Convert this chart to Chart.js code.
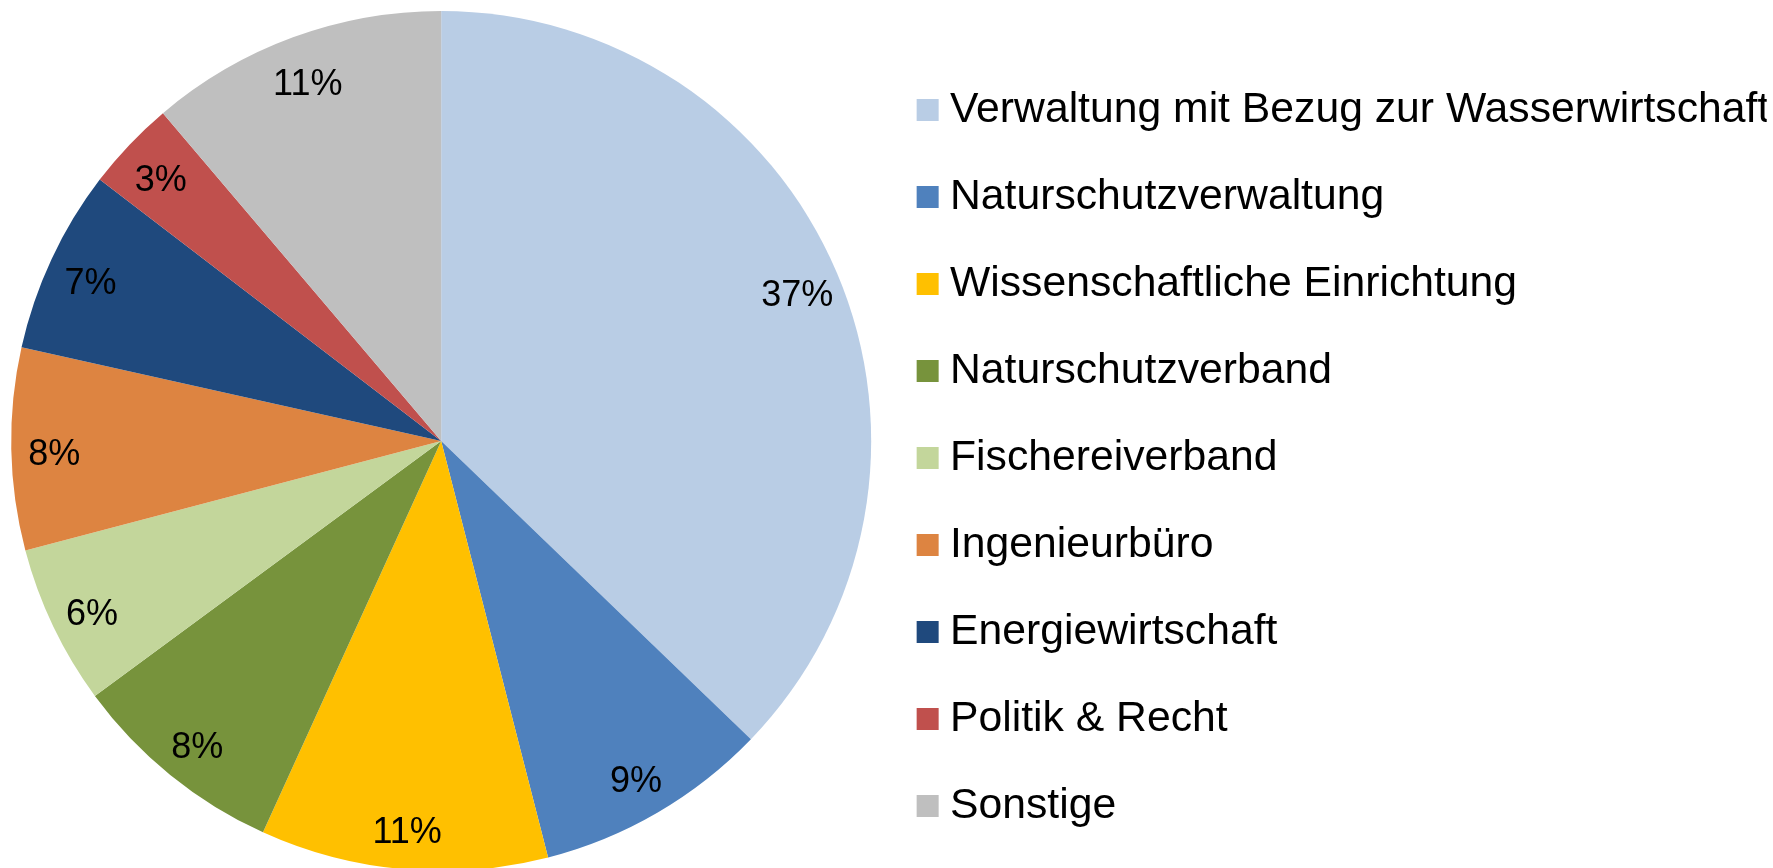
<!DOCTYPE html>
<html lang="de">
<head>
<meta charset="utf-8">
<title>Teilnehmer nach Bereich</title>
<script src="https://cdn.jsdelivr.net/npm/chart.js@4"></script>
<style>
    html,body{margin:0;padding:0;background:#fff;overflow:hidden;}
    #wrap{width:1773px;height:880px;}
</style>
</head>
<body>

<div id="wrap"><canvas id="graficoAnteile"></canvas></div>

<script>

// ---------------------
// DATEN
// ---------------------

const kategorien=[
    "Verwaltung mit Bezug zur Wasserwirtschaft",
    "Naturschutzverwaltung",
    "Wissenschaftliche Einrichtung",
    "Naturschutzverband",
    "Fischereiverband",
    "Ingenieurbüro",
    "Energiewirtschaft",
    "Politik & Recht",
    "Sonstige"
];

const anteile=[37.2,8.8,10.8,8.1,6.0,7.6,6.9,3.4,11.2];

const farben=[
    "#B9CDE5",
    "#4F81BD",
    "#FFC000",
    "#77933C",
    "#C3D69B",
    "#DD8441",
    "#1F497D",
    "#C0504D",
    "#BFBFBF"
];

const schrift="'Liberation Sans', Arial, sans-serif";

// ---------------------
// PROZENT-BESCHRIFTUNG
// ---------------------

const prozentLabels={

    id:"prozentLabels",

    afterDatasetsDraw(chart){

        const ctx=chart.ctx;
        const meta=chart.getDatasetMeta(0);
        const werte=chart.data.datasets[0].data;
        const summe=werte.reduce((a,b)=>a+b,0);

        ctx.save();
        ctx.font="36px "+schrift;
        ctx.fillStyle="#000";
        ctx.textAlign="center";
        ctx.textBaseline="middle";

        meta.data.forEach((arc,i)=>{
            const p=arc.getProps(["x","y","startAngle","endAngle","outerRadius"],true);
            const mitte=(p.startAngle+p.endAngle)/2;
            const r=p.outerRadius*0.9;
            // Excel setzt die Beschriftung etwas tiefer
            ctx.fillText(Math.round(werte[i]/summe*100)+"%",p.x+Math.cos(mitte)*r,p.y+Math.sin(mitte)*r+7);
        });

        ctx.restore();
    }

};

// ---------------------
// DIAGRAMM
// ---------------------

new Chart(document.getElementById("graficoAnteile"),{

    type:"pie",

    data:{
        labels:kategorien,
        datasets:[{
            data:anteile,
            backgroundColor:farben,
            borderWidth:0
        }]
    },

    options:{
        responsive:true,
        maintainAspectRatio:false,
        animation:false,
        radius:430,
        // Legende ist so breit wie die Kreisflaeche und wird beschnitten,
        // daher links etwas negativer Rand
        layout:{padding:{left:-2,right:6.3,top:2,bottom:0}},
        plugins:{
            tooltip:{enabled:false},
            legend:{
                position:"right",
                align:"center",
                // leerer Titel schiebt die Legende etwas nach unten
                title:{display:true,text:"",padding:0,font:{size:20,lineHeight:1.7}},
                labels:{
                    usePointStyle:true,
                    pointStyle:"rect",
                    boxWidth:2,
                    boxHeight:22,
                    padding:44.3,
                    color:"#000",
                    font:{size:42.7,family:schrift}
                }
            }
        }
    },

    plugins:[prozentLabels]

});

</script>
</body>
</html>
